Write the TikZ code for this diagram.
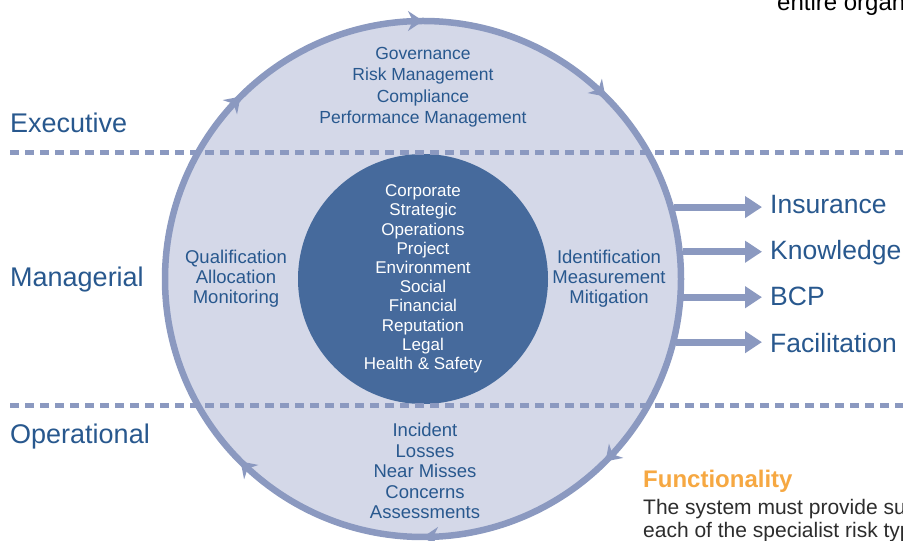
\documentclass[tikz,border=0pt]{standalone}
\usepackage{fontspec}
\setmainfont{Liberation Sans}
\usetikzlibrary{arrows.meta,decorations.markings}
\definecolor{ringc}{RGB}{139,153,192}
\definecolor{fillc}{RGB}{212,216,232}
\definecolor{innerc}{RGB}{70,106,156}
\definecolor{textc}{RGB}{40,88,142}
\definecolor{orangec}{RGB}{246,168,66}
\definecolor{bodyc}{RGB}{45,45,45}
\tikzset{
  lvl/.style={anchor=base west,text=textc,font=\fontsize{27}{30}\selectfont,inner sep=0},
  outlbl/.style={anchor=base west,text=textc,font=\fontsize{26.5}{30}\selectfont,inner sep=0},
  ringtxt/.style={align=center,text=textc,inner sep=0},
  dashline/.style={draw=ringc,line width=5pt,dash pattern=on 9pt off 6pt},
  shaft/.style={draw=ringc,line width=7pt,-{Triangle[length=17pt,width=21pt]}},
  ring/.style={draw=ringc,line width=6.5pt,
    postaction={decorate,decoration={markings,
      mark=at position 0.125 with {\arrowreversed{Stealth[length=15pt,width=20pt,inset=5pt]}},
      mark=at position 0.25 with {\arrowreversed{Stealth[length=15pt,width=20pt,inset=5pt]}},
      mark=at position 0.375 with {\arrowreversed{Stealth[length=15pt,width=20pt,inset=5pt]}},
      mark=at position 0.625 with {\arrowreversed{Stealth[length=15pt,width=20pt,inset=5pt]}},
      mark=at position 0.75 with {\arrowreversed{Stealth[length=15pt,width=20pt,inset=5pt]}},
      mark=at position 0.875 with {\arrowreversed{Stealth[length=15pt,width=20pt,inset=5pt]}}}}},
}
\begin{document}
\begin{tikzpicture}[x=1pt,y=1pt]
\useasboundingbox (0,0) rectangle (903,541);
\clip (0,0) rectangle (903,541);
\fill[white] (0,0) rectangle (903,541);
% outer circle node (fill only)
\node[circle,fill=fillc,minimum size=516pt,inner sep=0,outer sep=3pt] (outer) at (423,262) {};
\coordinate (tipcol) at (762,0);
% arrows out
\draw[shaft] (outer.16.7) -- (outer.16.7 -| tipcol);
\draw[shaft] (outer.6.2) -- (outer.6.2 -| tipcol);
\draw[shaft] (outer.-4.0) -- (outer.-4.0 -| tipcol);
\draw[shaft] (outer.-14.6) -- (outer.-14.6 -| tipcol);
% inner circle
\node[circle,fill=innerc,minimum size=250pt,inner sep=0] (inner) at (423,262) {};
% dashed lines
\coordinate (dl1) at (10,388);
\coordinate (dr1) at (903,388);
\coordinate (dl2) at (10,135);
\coordinate (dr2) at (903,135);
\draw[dashline] (dl1) -- (dr1);
\draw[dashline] (dl2) -- (dr2);
% ring stroke with arrows
\path[ring] (outer.center) ++(258,0) arc[start angle=0,end angle=360,radius=258];
% level labels
\node[lvl] (exec) at (10,408) {Executive};
\node[lvl] (mgr) at (10,254) {Managerial};
\node[lvl] (oper) at (10,97) {Operational};
% outputs
\node[outlbl] (ins) at (770,327) {Insurance};
\node[outlbl] (know) at (770,281) {Knowledge};
\node[outlbl] (bcp) at (770,235) {BCP};
\node[outlbl] (fac) at (770,188) {Facilitation};
% ring texts
\node[ringtxt,font=\fontsize{17.5}{21.5}\selectfont] (top) at (423,454) {Governance\\Risk Management\\Compliance\\Performance Management};
\node[ringtxt,font=\fontsize{17}{19.2}\selectfont,text=white] (cats) at (423,262) {Corporate\\Strategic\\Operations\\Project\\Environment\\Social\\Financial\\Reputation\\Legal\\Health \& Safety};
\node[ringtxt,font=\fontsize{18.5}{20}\selectfont] (left) at (236,262) {Qualification\\Allocation\\Monitoring};
\node[ringtxt,font=\fontsize{18.5}{20}\selectfont] (right) at (609,262) {Identification\\Measurement\\Mitigation};
\node[ringtxt,font=\fontsize{18.5}{20.5}\selectfont] (bot) at (425,70) {Incident\\Losses\\Near Misses\\Concerns\\Assessments};
% surrounding page text
\node[anchor=base west,inner sep=0,font=\fontsize{24}{26}\selectfont,text=black] (ent) at (777,530) {entire organ};
\node[anchor=base west,inner sep=0,font=\bfseries\fontsize{24}{26}\selectfont,text=orangec] (func) at (643,53) {Functionality};
\node[anchor=base west,inner sep=0,font=\fontsize{21}{24}\selectfont,text=bodyc] (body1) at (643,26) {The system must provide su};
\node[anchor=base west,inner sep=0,font=\fontsize{21}{24}\selectfont,text=bodyc] (body2) at (643,3) {each of the specialist risk typ};
\end{tikzpicture}
\end{document}
